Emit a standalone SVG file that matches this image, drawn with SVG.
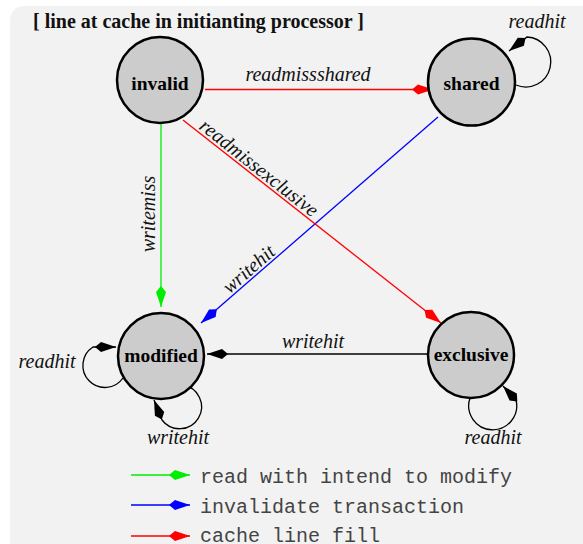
<svg xmlns="http://www.w3.org/2000/svg" width="583" height="544" viewBox="0 0 583 544">
  <style>
    .state circle { fill: #cccccc; stroke: #000; stroke-width: 2.5; }
    .state text { font-family: 'Liberation Serif', 'DejaVu Serif', serif; font-weight: bold; font-size: 19.5px; text-anchor: middle; fill: #000; }
    .edge { fill: none; stroke-width: 1.3; }
    .lbl { font-family: 'Liberation Serif', 'DejaVu Serif', serif; font-style: italic; font-size: 20px; text-anchor: middle; fill: #111; }
    .legend { font-family: 'Liberation Mono', 'DejaVu Sans Mono', monospace; font-size: 20px; fill: #444; }
    .title { font-family: 'Liberation Serif', 'DejaVu Serif', serif; font-weight: bold; font-size: 20px; fill: #111; }
  </style>
  <defs>
    <marker id="arr-red" markerUnits="userSpaceOnUse" markerWidth="22" markerHeight="12" refX="21" refY="6" orient="auto" overflow="visible">
      <path d="M0,6 L6,1 L21,6 L6,11 Z" fill="#ff0000"/>
    </marker>
    <marker id="arr-green" markerUnits="userSpaceOnUse" markerWidth="22" markerHeight="12" refX="21" refY="6" orient="auto" overflow="visible">
      <path d="M0,6 L6,1 L21,6 L6,11 Z" fill="#00ee00"/>
    </marker>
    <marker id="arr-blue" markerUnits="userSpaceOnUse" markerWidth="22" markerHeight="12" refX="21" refY="6" orient="auto" overflow="visible">
      <path d="M0,6 L6,1 L21,6 L6,11 Z" fill="#0000ff"/>
    </marker>
    <marker id="arr-black" markerUnits="userSpaceOnUse" markerWidth="22" markerHeight="12" refX="21" refY="6" orient="auto" overflow="visible">
      <path d="M0,6 L6,1 L21,6 L6,11 Z" fill="#000"/>
    </marker>
  </defs>

  <!-- panel background -->
  <rect x="10" y="6" width="585" height="550" rx="14" fill="#f2f2f2"/>

  <text class="title" x="33" y="28">[ line at cache in initianting processor ]</text>

  <!-- transitions -->
  <g id="connectors">
    <path class="edge" stroke="#ff0000" d="M205,89.5 L433,89.5" marker-end="url(#arr-red)"/>
    <path class="edge" stroke="#00ee00" d="M161,122 L161,307" marker-end="url(#arr-green)"/>
    <path class="edge" stroke="#0000ff" d="M438,117 L201,323" marker-end="url(#arr-blue)"/>
    <path class="edge" stroke="#ff0000" d="M183,120 L441,323" marker-end="url(#arr-red)"/>
    <path class="edge" stroke="#000" d="M428,354 L207,354" marker-end="url(#arr-black)"/>
    <!-- self loops -->
    <path class="edge" stroke="#000" d="M516,85 A25,25 0 1 0 527,37 L509,51" marker-end="url(#arr-black)"/>
    <path class="edge" stroke="#000" d="M123,378 A22,22 0 1 1 93,347 L116,347" marker-end="url(#arr-black)"/>
    <path class="edge" stroke="#000" d="M183,385 A22,22 0 1 1 162,420 L154,400" marker-end="url(#arr-black)"/>
    <path class="edge" stroke="#000" d="M470,398 A24,24 0 1 0 516,400 L503,386" marker-end="url(#arr-black)"/>

    <text class="lbl" x="308" y="81">readmissshared</text>
    <text class="lbl" transform="translate(155,214) rotate(-90)">writemiss</text>
    <text class="lbl" transform="translate(255,173) rotate(38.2)">readmissexclusive</text>
    <text class="lbl" transform="translate(253,274) rotate(-41)">writehit</text>
    <text class="lbl" x="313" y="348">writehit</text>
    <text class="lbl" x="537" y="28">readhit</text>
    <text class="lbl" x="47" y="368">readhit</text>
    <text class="lbl" x="178" y="444">writehit</text>
    <text class="lbl" x="493" y="444">readhit</text>
  </g>

  <!-- states -->
  <g id="invalid" class="state">
    <circle cx="160" cy="80" r="43"/>
    <text x="160" y="90">invalid</text>
  </g>
  <g id="shared" class="state">
    <circle cx="471.5" cy="82" r="43.5"/>
    <text x="471.5" y="90">shared</text>
  </g>
  <g id="modified" class="state">
    <circle cx="161" cy="356" r="43"/>
    <text x="161" y="362">modified</text>
  </g>
  <g id="exclusive" class="state">
    <circle cx="471" cy="355" r="43"/>
    <text x="471" y="361">exclusive</text>
  </g>

  <!-- legend -->
  <g id="legend">
    <path class="edge" stroke="#00ee00" d="M131,475 L190,475" marker-end="url(#arr-green)"/>
    <text class="legend" x="200" y="483">read with intend to modify</text>
    <path class="edge" stroke="#0000ff" d="M131,505 L190,505" marker-end="url(#arr-blue)"/>
    <text class="legend" x="200" y="513">invalidate transaction</text>
    <path class="edge" stroke="#ff0000" d="M131,536 L190,536" marker-end="url(#arr-red)"/>
    <text class="legend" x="200" y="542">cache line fill</text>
  </g>
</svg>
